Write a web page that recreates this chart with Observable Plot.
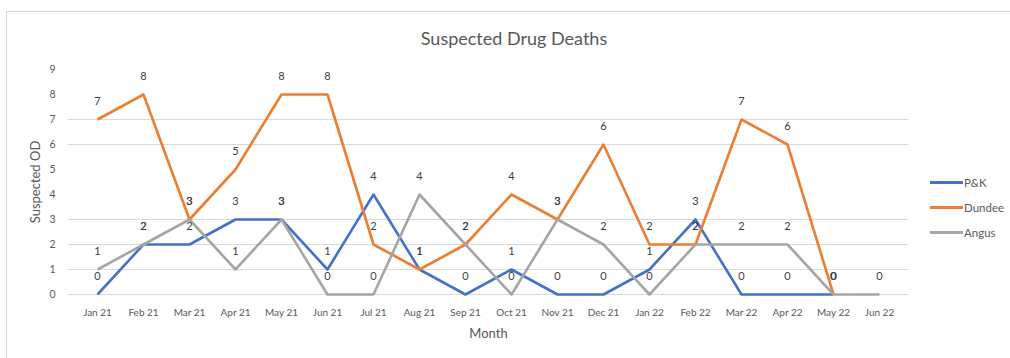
<!DOCTYPE html>
<html>
<head>
<meta charset="utf-8">
<script src="https://cdn.jsdelivr.net/npm/d3@7"></script>
<script src="https://cdn.jsdelivr.net/npm/@observablehq/plot@0.6"></script>
<style>
  html, body { margin: 0; padding: 0; background: #fff; }
  #wrap { position: relative; width: 1010px; height: 358px; overflow: hidden; font-family: Lato, "Liberation Sans", sans-serif; }
  #frame { position: absolute; left: 6px; top: 11px; width: 1020px; height: 360px; border-left: 1.5px solid #d9d9d9; border-top: 1.5px solid #d9d9d9; box-sizing: border-box; }
  #title { position: absolute; left: 0; width: 1028px; top: 27px; text-align: center; font-size: 18px; color: #595959; }
  #legend { position: absolute; left: 930px; top: 170px; font-size: 11.5px; color: #595959; }
  .item { display: flex; align-items: center; height: 25px; }
  .sw { width: 33px; height: 3px; margin-right: 1px; }
  #chart { position: absolute; left: 0; top: 0; }
</style>
</head>
<body>
<div id="wrap">
  <div id="frame"></div>
  <div id="chart"></div>
  <div id="title">Suspected Drug Deaths</div>
  <div id="legend"></div>
</div>
<script>
const months = ["Jan 21","Feb 21","Mar 21","Apr 21","May 21","Jun 21","Jul 21","Aug 21","Sep 21","Oct 21","Nov 21","Dec 21","Jan 22","Feb 22","Mar 22","Apr 22","May 22","Jun 22"];
const seriesNames = ["P&K","Dundee","Angus"];
const seriesColors = ["#4472C4","#ED7D31","#A5A5A5"];
const pk     = [0,2,2,3,3,1,4,1,0,1,0,0,1,3,0,0,0,null];
const dundee = [7,8,3,5,8,8,2,1,2,4,3,6,2,2,7,6,0,null];
const angus  = [1,2,3,1,3,0,0,4,2,0,3,2,0,2,2,2,0,0];
const yTicks = [0,1,2,3,4,5,6,7,8,9];
const gridTicks = [0,1,2,3,6,7];

const seriesValues = [pk, dundee, angus];
const data = [];
seriesNames.forEach((s, i) => {
  seriesValues[i].forEach((v, j) => {
    if (v !== null) data.push({series: s, month: months[j], value: v});
  });
});

const chart = Plot.plot({
  width: 1010,
  height: 358,
  marginLeft: 68,
  marginRight: 102,
  marginTop: 69,
  marginBottom: 64,
  style: {fontFamily: "Lato, 'Liberation Sans', sans-serif", background: "transparent"},
  x: {type: "point", domain: months, padding: 0.5},
  y: {domain: [0, 9], ticks: yTicks},
  color: {domain: seriesNames, range: seriesColors},
  marks: [
    Plot.ruleY(gridTicks, {stroke: "#d9d9d9", strokeWidth: 1}),
    Plot.axisY({ticks: yTicks, tickSize: 0, tickPadding: 13, fontSize: 10.5, color: "#595959", label: null}),
    Plot.axisY({ticks: [], tickSize: 0, fontSize: 13, color: "#595959", label: "Suspected OD", labelAnchor: "center", labelArrow: "none", labelOffset: 38}),
    Plot.axisX({tickSize: 0, tickPadding: 14, fontSize: 10, color: "#595959", label: null}),
    Plot.axisX({ticks: [], tickSize: 0, fontSize: 13, color: "#595959", label: "Month", labelAnchor: "center", labelArrow: "none", labelOffset: 43}),
    Plot.line(data, {x: "month", y: "value", z: "series", stroke: "series", strokeWidth: 2.6, strokeLinejoin: "round", strokeLinecap: "butt"}),
    Plot.text(data, {x: "month", y: "value", text: d => String(d.value), dy: -18, fill: "#404040", fontSize: 11})
  ]
});
document.getElementById("chart").appendChild(chart);

const legend = document.getElementById("legend");
seriesNames.forEach((s, i) => {
  const it = document.createElement("div");
  it.className = "item";
  const sw = document.createElement("div");
  sw.className = "sw";
  sw.style.background = seriesColors[i];
  const lb = document.createElement("span");
  lb.textContent = s;
  it.appendChild(sw); it.appendChild(lb);
  legend.appendChild(it);
});
</script>
</body>
</html>
